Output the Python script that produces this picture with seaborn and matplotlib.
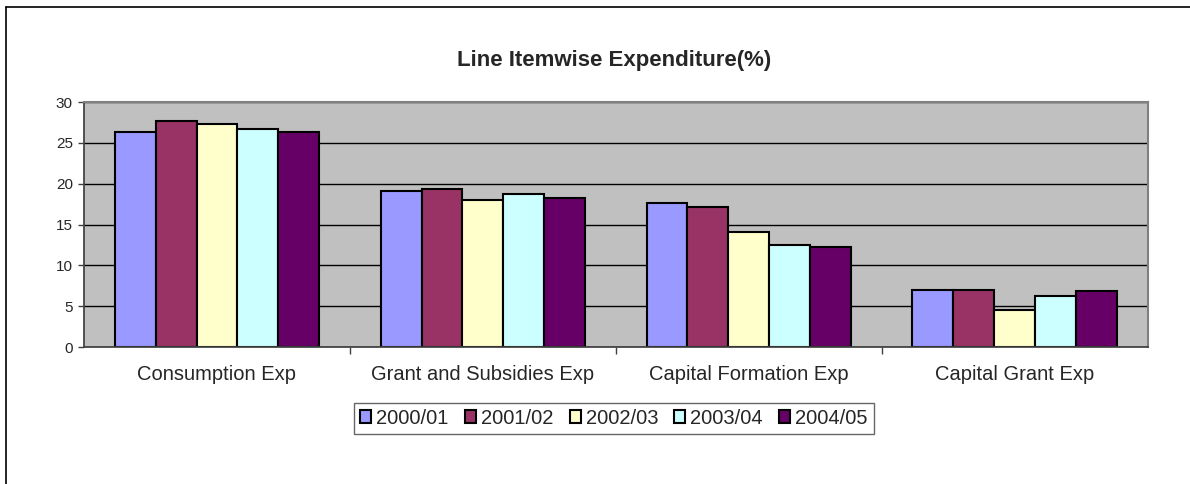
import matplotlib
import pandas as pd
import seaborn as sns
from matplotlib.lines import Line2D

matplotlib.use("Agg")
import matplotlib.pyplot as plt


categories = ["Consumption Exp", "Grant and Subsidies Exp", "Capital Formation Exp", "Capital Grant Exp"]
years = ["2000/01", "2001/02", "2002/03", "2003/04", "2004/05"]
values_2000 = [26.3, 19.1, 17.6, 7.0]
values_2001 = [27.7, 19.4, 17.1, 7.0]
values_2002 = [27.3, 18.0, 14.1, 4.5]
values_2003 = [26.7, 18.7, 12.5, 6.3]
values_2004 = [26.4, 18.2, 12.2, 6.9]
year_colors = ["#9999FF", "#993366", "#FFFFCC", "#CCFFFF", "#660066"]


def build_frame() -> pd.DataFrame:
    rows = []
    for year, vals in zip(years, [values_2000, values_2001, values_2002, values_2003, values_2004]):
        for cat, v in zip(categories, vals):
            rows.append({"category": cat, "year": year, "value": v})
    return pd.DataFrame(rows)


def main() -> None:
    sns.set_theme(style="white")
    plt.rcParams["font.family"] = ["Liberation Sans", "DejaVu Sans"]

    df = build_frame()

    fig = plt.figure(figsize=(11.9, 4.84), dpi=100)
    fig.patch.set_facecolor("white")
    ax = fig.add_axes([0.0706, 0.283, 0.894, 0.506])

    sns.barplot(
        data=df,
        x="category",
        y="value",
        hue="year",
        order=categories,
        hue_order=years,
        palette=year_colors,
        width=0.77,
        edgecolor="black",
        linewidth=1.5,
        saturation=1,
        errorbar=None,
        ax=ax,
    )

    ax.set_facecolor("#C0C0C0")
    ax.set_ylim(0, 30)
    ax.set_yticks(range(0, 31, 5))
    ax.set_xlim(-0.5, 3.5)
    ax.yaxis.grid(True, color="black", linewidth=1)
    ax.set_axisbelow(True)
    for side in ["top", "right"]:
        ax.spines[side].set_color("#808080")
        ax.spines[side].set_linewidth(1.5)
    ax.spines["left"].set_color("#404040")
    ax.spines["bottom"].set_color("#404040")

    ax.set_xlabel("")
    ax.set_ylabel("")
    ax.tick_params(axis="y", labelsize=11, length=4, width=1, color="#404040", left=True, pad=4)
    ax.tick_params(axis="x", labelsize=14.5, length=0, pad=13)
    ax.set_xticks([0.5, 1.5, 2.5], minor=True)
    ax.tick_params(axis="x", which="minor", length=5, width=1, color="#404040", bottom=True)

    ax.legend_.remove()
    handles = [plt.Rectangle((0, 0), 1, 1, facecolor=c, edgecolor="black", linewidth=1.5) for c in year_colors]
    leg = fig.legend(
        handles,
        years,
        loc="center",
        bbox_to_anchor=(0.516, 0.136),
        ncol=5,
        fontsize=14.5,
        frameon=True,
        fancybox=False,
        edgecolor="#404040",
        handlelength=0.55,
        handleheight=0.55,
        handletextpad=0.25,
        columnspacing=0.8,
        borderpad=0.3,
        borderaxespad=0,
    )
    leg.get_frame().set_linewidth(1)

    fig.text(0.516, 0.876, "Line Itemwise Expenditure(%)", ha="center", va="center",
             fontsize=16, fontweight="bold")

    # chart border: only top and left edges fall inside the picture
    fig.add_artist(Line2D([6 / 1190, 1.0], [1 - 7 / 484, 1 - 7 / 484], transform=fig.transFigure,
                          color="black", linewidth=1.2))
    fig.add_artist(Line2D([6 / 1190, 6 / 1190], [0.0, 1 - 7 / 484], transform=fig.transFigure,
                          color="black", linewidth=1.2))

    fig.savefig("out.png", dpi=100, facecolor="white")
    plt.close(fig)


if __name__ == "__main__":
    main()
